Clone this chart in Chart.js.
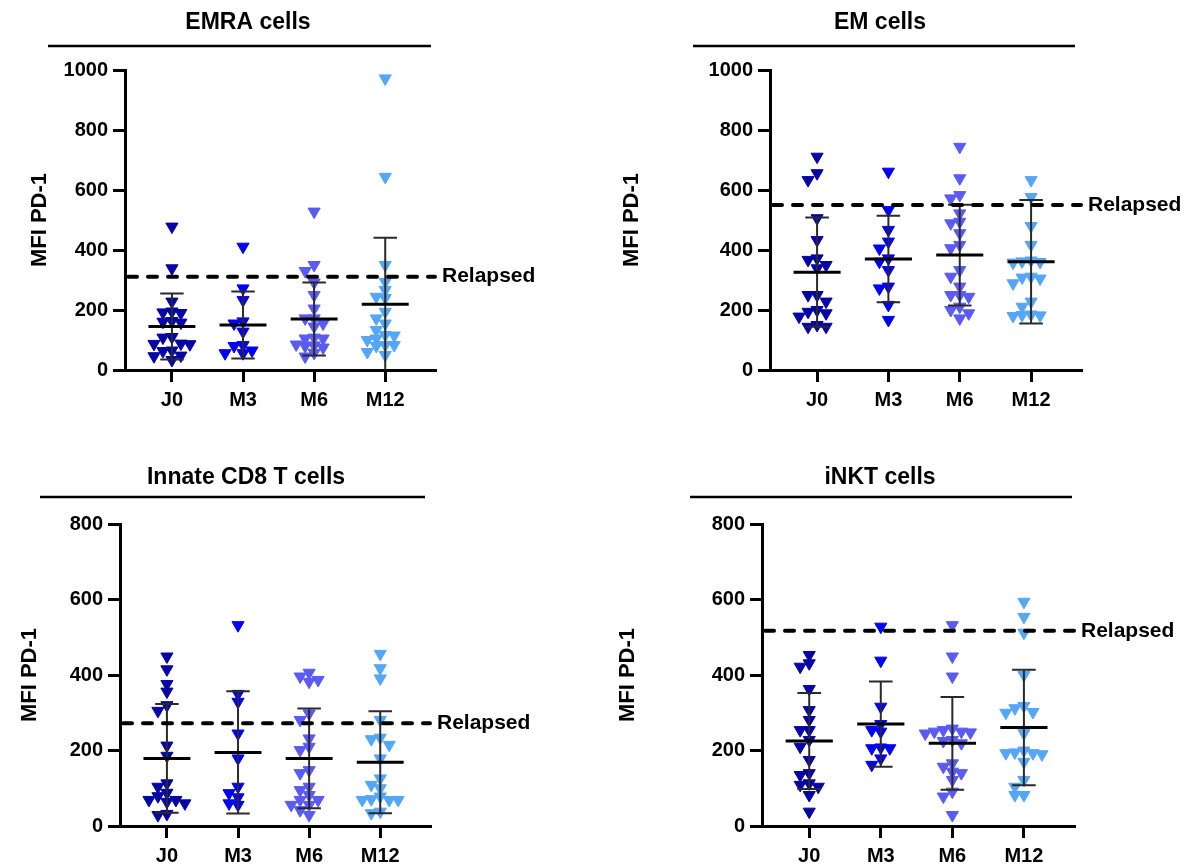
<!DOCTYPE html>
<html>
<head>
<meta charset="utf-8">
<script src="https://cdn.jsdelivr.net/npm/chart.js@4.4.0/dist/chart.umd.min.js"></script>
<style>
  body { margin: 0; background: #fff; }
  #wrap { position: relative; width: 1196px; height: 865px; }
  .panel { position: absolute; width: 598px; height: 432px; }
  .low { height: 433px; }
</style>
</head>
<body>
<div id="wrap">
  <div class="panel" style="left:0;top:0"><canvas id="c1"></canvas></div>
  <div class="panel" style="left:598px;top:0"><canvas id="c2"></canvas></div>
  <div class="panel low" style="left:0;top:432px"><canvas id="c3"></canvas></div>
  <div class="panel low" style="left:598px;top:432px"><canvas id="c4"></canvas></div>
</div>
<script>
// groups + colours (GraphPad style dot plots, mean +/- SD)
const groups = ['J0', 'M3', 'M6', 'M12'];
const groupColors = ['#0505a6', '#0202f2', '#5a5af4', '#56a6f7'];

// EMRA cells
const emraVals = [
  [478, 339, 228, 195, 192, 190, 163, 161, 158, 110, 108, 88, 87, 86, 65, 63, 48, 46, 33],
  [411, 272, 233, 162, 155, 128, 83, 80, 65, 56, 56],
  [528, 350, 330, 292, 250, 205, 172, 172, 155, 145, 108, 105, 105, 85, 82, 80, 75, 57, 45],
  [972, 644, 350, 294, 267, 244, 240, 194, 172, 155, 133, 117, 115, 105, 100, 83, 83, 80, 60, 50]
];
const emraMean = [145, 150, 170, 219];
const emraSD = [110, 112, 122, 222];
const emraRelapsed = 311;

// EM cells
const emVals = [
  [711, 656, 633, 506, 433, 372, 367, 350, 339, 250, 250, 228, 200, 194, 189, 178, 150, 144, 144],
  [661, 533, 467, 428, 405, 372, 361, 333, 278, 272, 217, 167],
  [744, 639, 583, 572, 522, 494, 489, 456, 417, 406, 333, 311, 278, 250, 250, 244, 211, 200, 189, 172],
  [633, 577, 480, 417, 365, 362, 360, 358, 311, 308, 305, 289, 228, 211, 185, 183, 182, 180]
];
const emMean = [326, 370, 383, 361];
const emSD = [182, 144, 168, 206];
const emRelapsed = 550;

// Innate CD8 T cells
const innateVals = [
  [449, 415, 376, 356, 320, 305, 213, 186, 113, 104, 88, 79, 69, 69, 64, 60, 32, 29],
  [532, 350, 329, 245, 179, 104, 87, 76, 60, 56],
  [406, 396, 387, 382, 298, 281, 232, 210, 201, 148, 140, 104, 95, 82, 69, 69, 56, 56, 42, 29],
  [456, 418, 391, 281, 234, 230, 215, 179, 126, 109, 100, 78, 71, 69, 69, 69, 38, 34]
];
const innateMean = [179, 195, 179, 169];
const innateSD = [144, 162, 132, 135];
const innateRelapsed = 272;

// iNKT cells
const inktVals = [
  [453, 431, 422, 363, 307, 281, 254, 254, 228, 210, 175, 140, 135, 113, 109, 104, 82, 38],
  [528, 438, 316, 270, 254, 250, 208, 206, 206, 179, 162],
  [532, 449, 396, 258, 254, 250, 250, 248, 245, 228, 225, 219, 166, 157, 144, 140, 122, 91, 78, 29],
  [594, 554, 512, 400, 318, 312, 302, 300, 246, 200, 195, 193, 193, 190, 170, 122, 104, 82, 82]
];
const inktMean = [225, 270, 219, 261];
const inktSD = [127, 113, 123, 153];
const inktRelapsed = 517;

const FONT = "'Liberation Sans', Arial, sans-serif";
const CAT_PX = 71.3;   // px between two groups
const PLOT_H = 301;    // px height of each plot area

// simple beeswarm: spread points sideways when they would overlap too much
function swarm(vals, gi, yMax) {
  const ppu = PLOT_H / yMax;
  const order = vals.map((v, i) => i).sort((a, b) => vals[b] - vals[a]);
  const placed = [];
  const xs = vals.map(() => gi);
  const steps = [0, -1, 1, -2, 2, -3, 3, -4, 4];
  order.forEach(i => {
    const yp = vals[i] * ppu;
    for (const k of steps) {
      const xp = k * 9;
      if (!placed.some(p => Math.abs(p.y - yp) < 7.5 && Math.abs(p.x - xp) < 9)) {
        placed.push({ x: xp, y: yp });
        xs[i] = gi + xp / CAT_PX;
        break;
      }
    }
  });
  return xs;
}

const decor = {
  id: 'decor',
  afterDatasetsDraw(chart, args, o) {
    const { ctx, chartArea: a, scales: { x, y } } = chart;
    ctx.save();
    // SD whiskers + mean line
    o.mean.forEach((m, i) => {
      const cx = x.getPixelForValue(i);
      const capW = x.getPixelForValue(i + 0.165) - cx;
      const meanW = x.getPixelForValue(i + 0.33) - cx;
      const yTop = y.getPixelForValue(m + o.sd[i]);
      const yBot = y.getPixelForValue(Math.max(0, m - o.sd[i]));
      const yM = y.getPixelForValue(m);
      ctx.strokeStyle = '#2a2a2a';
      ctx.lineWidth = 2;
      ctx.beginPath();
      ctx.moveTo(cx, yTop); ctx.lineTo(cx, yBot);
      ctx.moveTo(cx - capW, yTop); ctx.lineTo(cx + capW, yTop);
      if (m - o.sd[i] > 0) { ctx.moveTo(cx - capW, yBot); ctx.lineTo(cx + capW, yBot); }
      ctx.stroke();
      ctx.strokeStyle = '#000';
      ctx.lineWidth = 3;
      ctx.beginPath();
      ctx.moveTo(cx - meanW, yM); ctx.lineTo(cx + meanW, yM);
      ctx.stroke();
    });
    // relapsed threshold
    const yr = y.getPixelForValue(o.relapsed);
    ctx.strokeStyle = '#000';
    ctx.lineWidth = 4;
    ctx.lineCap = 'round';
    ctx.setLineDash([9, 11]);
    ctx.beginPath();
    ctx.moveTo(a.left + 3, yr); ctx.lineTo(a.right, yr);
    ctx.stroke();
    ctx.setLineDash([]);
    ctx.fillStyle = '#000';
    ctx.font = 'bold 21px ' + FONT;
    ctx.textAlign = 'left';
    ctx.textBaseline = 'middle';
    ctx.fillText('Relapsed', a.right + 7, yr);
    // panel title + underline
    ctx.font = 'bold 23px ' + FONT;
    ctx.textAlign = 'center';
    ctx.fillText(o.title, o.titleX, o.titleY);
    ctx.lineWidth = 2.5;
    ctx.lineCap = 'butt';
    ctx.beginPath();
    ctx.moveTo(o.lineX1, o.lineY); ctx.lineTo(o.lineX2, o.lineY);
    ctx.stroke();
    ctx.restore();
  }
};

function makePanel(id, vals, mean, sd, relapsed, yMax, title, lay) {
  const datasets = vals.map((col, gi) => {
    const xs = swarm(col, gi, yMax);
    return {
      label: groups[gi],
      data: col.map((v, i) => ({ x: xs[i], y: v })),
      pointStyle: 'triangle',
      rotation: 180,
      radius: 7,
      hoverRadius: 7,
      borderWidth: 1,
      backgroundColor: groupColors[gi],
      borderColor: groupColors[gi],
      clip: false
    };
  });
  const tickFont = { family: FONT, size: 20, weight: 'bold' };
  const axisGrid = { display: true, drawOnChartArea: false, drawTicks: true, tickLength: 12, lineWidth: 3, color: '#000' };
  const axisBorder = { display: true, width: 3, color: '#000' };
  new Chart(document.getElementById(id), {
    type: 'scatter',
    data: { datasets },
    options: {
      responsive: true,
      maintainAspectRatio: false,
      animation: false,
      layout: { padding: { left: 0, top: lay.top, right: lay.right, bottom: 0 } },
      plugins: {
        legend: { display: false },
        tooltip: { enabled: false },
        decor: { mean, sd, relapsed, title, titleX: lay.titleX, titleY: lay.titleY, lineX1: lay.lineX1, lineX2: lay.lineX2, lineY: lay.lineY }
      },
      scales: {
        x: {
          type: 'linear', min: -0.66, max: 3.7,
          afterBuildTicks: s => { s.ticks = groups.map((g, i) => ({ value: i })); },
          afterFit: s => { s.height = lay.xH; },
          ticks: { callback: (v, i) => groups[i], font: tickFont, color: '#000', padding: 6, maxRotation: 0, autoSkip: false },
          grid: axisGrid,
          border: axisBorder
        },
        y: {
          min: 0, max: yMax,
          afterFit: s => { s.width = lay.yW; },
          ticks: { stepSize: 200, callback: v => String(v), font: tickFont, color: '#000', padding: 5 },
          grid: axisGrid,
          border: axisBorder,
          title: { display: true, text: 'MFI PD-1', color: '#000', font: { family: FONT, size: 22, weight: 'bold' }, padding: { top: lay.yTitle, bottom: 0 } }
        }
      }
    },
    plugins: [decor]
  });
}

makePanel('c1', emraVals, emraMean, emraSD, emraRelapsed, 1000, 'EMRA cells',
  { top: 70, right: 163, xH: 62, yW: 125, yTitle: 27, titleX: 248, titleY: 23, lineX1: 48, lineX2: 431, lineY: 46 });
makePanel('c2', emVals, emMean, emSD, emRelapsed, 1000, 'EM cells',
  { top: 70, right: 115, xH: 62, yW: 172, yTitle: 21, titleX: 282, titleY: 23, lineX1: 95, lineX2: 477, lineY: 46 });
makePanel('c3', innateVals, innateMean, innateSD, innateRelapsed, 800, 'Innate CD8 T cells',
  { top: 92, right: 168, xH: 39, yW: 120, yTitle: 17, titleX: 246, titleY: 46, lineX1: 40, lineX2: 425, lineY: 65 });
makePanel('c4', inktVals, inktMean, inktSD, inktRelapsed, 800, 'iNKT cells',
  { top: 92, right: 122, xH: 39, yW: 164, yTitle: 17, titleX: 282, titleY: 46, lineX1: 92, lineX2: 474, lineY: 65 });
</script>
</body>
</html>
